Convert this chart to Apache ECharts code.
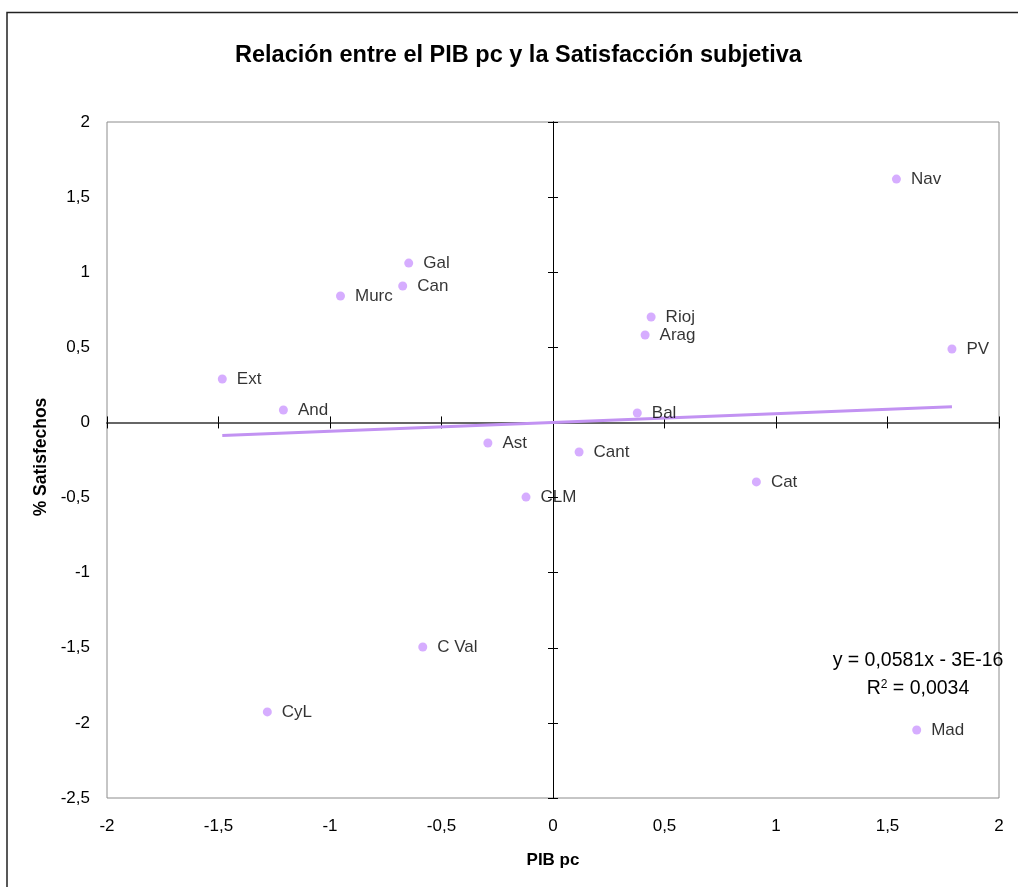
<!DOCTYPE html>
<html>
<head>
<meta charset="utf-8">
<script src="https://cdn.jsdelivr.net/npm/echarts@6/dist/echarts.min.js"></script>
<style>
html,body{margin:0;padding:0;background:#fff;}
#chart{width:1018px;height:887px;}
</style>
</head>
<body>
<div id="chart"></div>
<script>
// Data
const regions = ['Nav','Gal','Can','Murc','Rioj','Arag','PV','Ext','And','Bal','Ast','Cant','Cat','CLM','C Val','CyL','Mad'];
const pibPc = [1.54,-0.647,-0.674,-0.953,0.44,0.413,1.789,-1.483,-1.209,0.378,-0.292,0.117,0.912,-0.121,-0.584,-1.281,1.631];
const satisfechos = [1.62,1.061,0.908,0.842,0.702,0.582,0.489,0.289,0.083,0.063,-0.137,-0.197,-0.396,-0.497,-1.495,-1.927,-2.047];
// Trend line as stated on the chart: y = 0,0581x - 3E-16
const trendSlope = 0.0581;
const trendIntercept = -3e-16;
const equationText = 'y = 0,0581x - 3E-16';
const r2Text = '0,0034';

const xMin = Math.min.apply(null, pibPc), xMax = Math.max.apply(null, pibPc);
const trendData = [[xMin, trendSlope * xMin + trendIntercept], [xMax, trendSlope * xMax + trendIntercept]];
const points = pibPc.map((x, i) => ({ name: regions[i], value: [x, satisfechos[i]] }));

const FONT = '"Liberation Sans", Arial, sans-serif';
const comma = v => String(v).replace('.', ',');

const chart = echarts.init(document.getElementById('chart'), null, { renderer: 'canvas' });

const labelAxisX = {
  type: 'value', min: -2, max: 2, interval: 0.5, position: 'bottom',
  axisLine: { show: false, onZero: false }, axisTick: { show: false }, splitLine: { show: false },
  axisLabel: { formatter: comma, color: '#000', fontFamily: FONT, fontSize: 17, margin: 20 },
  name: 'PIB pc', nameLocation: 'middle', nameGap: 54,
  nameTextStyle: { fontFamily: FONT, fontSize: 17, fontWeight: 'bold', color: '#000' }
};
const lineAxisX = (pos) => ({
  type: 'value', min: -2, max: 2, interval: 0.5, position: pos,
  axisLine: { show: true, onZero: true, onZeroAxisIndex: 0, lineStyle: { color: '#666', width: 2 } },
  axisTick: { show: true, inside: false, length: 6, lineStyle: { color: '#000', width: 1 } },
  axisLabel: { show: false }, splitLine: { show: false }
});
const labelAxisY = {
  type: 'value', min: -2.5, max: 2, interval: 0.5, position: 'left',
  axisLine: { show: false, onZero: false }, axisTick: { show: false }, splitLine: { show: false },
  axisLabel: { formatter: comma, color: '#000', fontFamily: FONT, fontSize: 17, margin: 17 },
  name: '% Satisfechos', nameLocation: 'middle', nameGap: 47, nameRotate: 90,
  nameTextStyle: { fontFamily: FONT, fontSize: 17.5, fontWeight: 'bold', color: '#000', padding: [0, 0, 0, 6] }
};
const lineAxisY = (pos) => ({
  type: 'value', min: -2.5, max: 2, interval: 0.5, position: pos,
  axisLine: { show: true, onZero: true, onZeroAxisIndex: 0, lineStyle: { color: '#000', width: 1 } },
  axisTick: { show: true, inside: false, length: 5, lineStyle: { color: '#000', width: 1 } },
  axisLabel: { show: false }, splitLine: { show: false }
});

chart.setOption({
  animation: false,
  backgroundColor: '#fff',
  title: {
    text: 'Relación entre el PIB pc y la Satisfacción subjetiva',
    left: 230, top: 39,
    textStyle: { fontFamily: FONT, fontSize: 23.5, fontWeight: 'bold', color: '#000' }
  },
  grid: { left: 107, top: 122, right: 19, bottom: 89, show: true, borderColor: '#8c8c8c', borderWidth: 1, containLabel: false },
  xAxis: [labelAxisX, lineAxisX('bottom'), lineAxisX('top')],
  yAxis: [labelAxisY, lineAxisY('left'), lineAxisY('right')],
  graphic: [
    { type: 'rect', silent: true, shape: { x: 7, y: 12.5, width: 1100, height: 1000 },
      style: { fill: 'none', stroke: '#222', lineWidth: 1.5 }, z: 100 },
    { type: 'text', x: 918, y: 661, silent: true,
      style: { text: equationText, fontFamily: FONT, fontSize: 19.5, fill: '#000', align: 'center', verticalAlign: 'middle' } },
    { type: 'text', x: 918, y: 689, silent: true,
      style: { text: 'R{sup|2} = ' + r2Text, fontFamily: FONT, fontSize: 19.5, fill: '#000', align: 'center', verticalAlign: 'middle',
        rich: { sup: { fontFamily: FONT, fontSize: 12, verticalAlign: 'top', padding: [0, 0, 9, 0] } } } }
  ],
  series: [
    {
      type: 'line', xAxisIndex: 0, yAxisIndex: 0, data: trendData,
      showSymbol: false, symbol: 'none', silent: true,
      lineStyle: { color: '#c292f2', width: 3 }, z: 3
    },
    {
      type: 'scatter', xAxisIndex: 0, yAxisIndex: 0, data: points,
      symbol: 'circle', symbolSize: 9,
      itemStyle: { color: '#cc99ff' },
      label: { show: true, position: 'right', distance: 10, formatter: p => p.name,
        fontFamily: FONT, fontSize: 17, color: '#000' },
      z: 4
    }
  ]
});
</script>
</body>
</html>
